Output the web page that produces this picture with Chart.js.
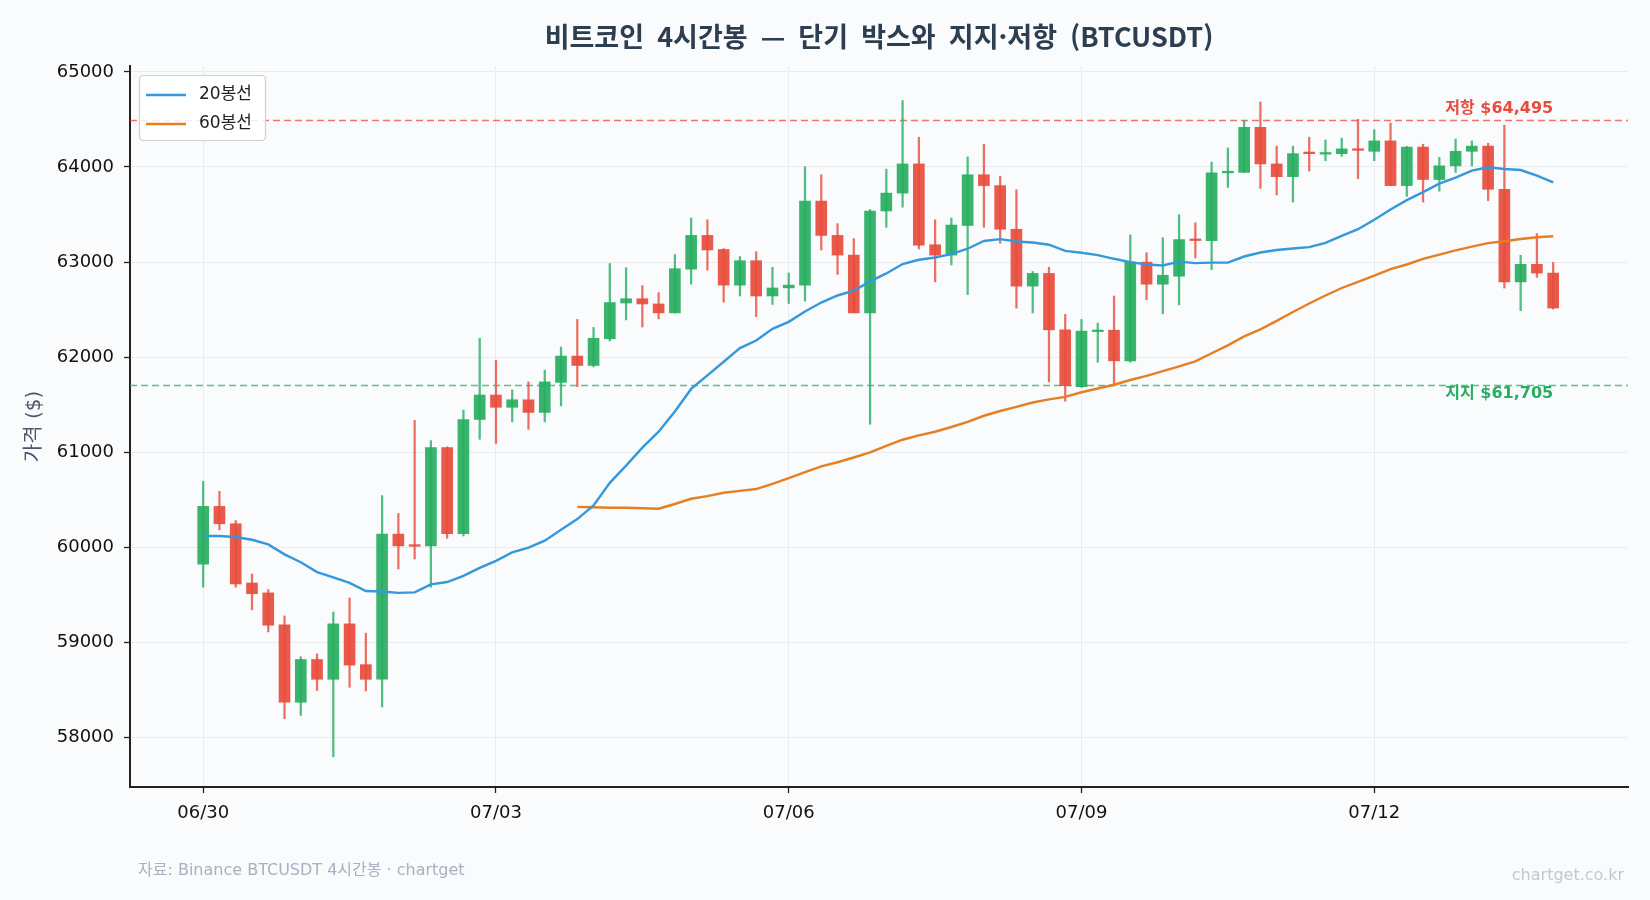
<!DOCTYPE html>
<html lang="ko">
<head>
<meta charset="utf-8">
<title>비트코인 4시간봉 — 단기 박스와 지지·저항</title>
<script src="https://cdn.jsdelivr.net/npm/chart.js@4.4.1/dist/chart.umd.min.js"></script>
<style>
  html, body { margin: 0; padding: 0; background: #f9fbfd; }
  canvas { display: block; }
</style>
</head>
<body>
<canvas id="chart" width="1650" height="900"></canvas>
<script>
// 4시간봉 시가/고가/저가/종가 (06/30 00:00 부터, 84개)
const opens = [59822,60430,60247,59624,59520,59185,58369,58819,58611,59194,58765,58611,60138,60020,60014,61047,60143,61344,61601,61472,
  61551,61418,61734,62011,61912,62193,62569,62614,62559,62465,62925,63280,63132,62757,63014,62643,62728,62757,63641,63280,
  63073,62465,63537,63725,64032,63182,63073,63384,63918,63804,63345,62747,62880,62287,61689,62268,62283,61961,62999,62767,
  62851,63236,63226,63938,63943,64417,64032,63898,64145,64135,64140,64185,64165,64274,63804,64209,63868,64012,64165,64219,
  63765,62791,62976,62884];
const highs = [60692,60588,60281,59718,59555,59278,58848,58878,59318,59466,59096,60543,60355,61334,61121,61057,61443,62198,61966,61655,
  61739,61862,62105,62396,62312,62984,62940,62752,62678,63078,63463,63444,63142,63058,63108,62945,62885,64002,63918,63404,
  63246,63552,63977,64699,64313,63444,63463,64106,64239,63903,63760,62900,62945,62450,62396,62357,62643,63286,63098,63256,
  63498,63413,64051,64200,64491,64684,64219,64219,64313,64284,64303,64501,64392,64461,64215,64239,64101,64293,64274,64249,
  64439,63071,63299,62997];
const lows = [59580,60183,59580,59342,59110,58196,58231,58493,57796,58527,58488,58320,59772,59876,59580,60094,60118,61136,61092,61319,
  61240,61319,61487,61690,61897,62169,62391,62317,62401,62465,62767,62915,62579,62643,62426,62554,62564,62589,63127,62870,
  62465,61294,63365,63577,63137,62791,62969,62658,63365,63197,62515,62465,61739,61536,61680,61946,61699,61946,62604,62455,
  62549,63043,62920,63785,63943,63775,63705,63631,63957,64066,64111,63878,64066,63804,63691,63631,63745,63943,64012,63646,
  62726,62488,62839,62505];
const closes = [60430,60247,59614,59511,59180,58369,58819,58611,59194,58760,58611,60138,60014,60010,61047,60143,61344,61601,61472,61551,
  61418,61739,62011,61912,62198,62574,62614,62559,62465,62930,63280,63127,62757,63014,62643,62727,62757,63641,63280,63073,
  62465,63537,63725,64032,63177,63073,63389,63918,63804,63345,62747,62880,62287,61699,62273,62278,61961,62999,62767,62861,
  63236,63226,63938,63943,64417,64032,63898,64140,64140,64145,64190,64175,64274,63804,64209,63868,64012,64165,64219,63765,
  62791,62976,62884,62516];

// 이동평균선
const ma20 = [60118,60118,60108,60079,60030,59925,59842,59738,59684,59624,59540,59535,59520,59525,59609,59634,59698,59782,59856,59945,
  59995,60069,60183,60296,60440,60677,60859,61047,61215,61428,61665,61808,61951,62095,62174,62297,62371,62480,62574,62648,
  62698,62796,62880,62979,63024,63048,63083,63140,63221,63241,63216,63206,63182,63117,63098,63073,63034,62999,62974,62964,
  63004,62989,62994,62994,63058,63100,63127,63142,63157,63201,63276,63345,63444,63552,63651,63735,63824,63888,63962,63997,
  63979,63968,63909,63839];
const ma60Start = 23;
const ma60 = [60425,60420,60415,60415,60410,60405,60455,60510,60538,60573,60593,60612,60667,60726,60790,60850,60894,60944,60998,61067,
  61131,61176,61215,61265,61319,61383,61433,61477,61522,61556,61581,61630,61670,61709,61759,61803,61853,61902,61956,62040,
  62124,62218,62292,62381,62475,62564,62648,62727,62791,62856,62925,62974,63034,63078,63123,63162,63199,63218,63242,63260,
  63271];

const resistance = 64495;
const support = 61705;

const xTickIdx = [0, 18, 36, 54, 72];
const xTickLabels = ["06/30", "07/03", "07/06", "07/09", "07/12"];
const yTicks = [58000, 59000, 60000, 61000, 62000, 63000, 64000, 65000];

const UP = "rgba(39,174,96,0.92)";
const DOWN = "rgba(231,76,60,0.92)";
const UP_W = "rgba(39,174,96,0.8)";
const DOWN_W = "rgba(231,76,60,0.8)";
const KR = "'Noto Sans CJK KR', sans-serif";
const FONT = "'DejaVu Sans', 'Noto Sans CJK KR', sans-serif";

const isUp = closes.map((c, i) => c >= opens[i]);
const bodies = opens.map((o, i) => ({ x: i, y: [o, closes[i]] }));
const wicks = lows.map((l, i) => ({ x: i, y: [l, highs[i]] }));

const decor = {
  id: "decor",
  beforeDatasetsDraw(chart) {
    const { ctx, chartArea: a, scales: { y } } = chart;
    ctx.save();
    ctx.lineWidth = 1.3;
    ctx.setLineDash([7, 4]);
    [[resistance, "rgba(231,76,60,0.75)"], [support, "rgba(39,174,96,0.75)"]].forEach(([v, c]) => {
      const py = Math.round(y.getPixelForValue(v)) + 0.5;
      ctx.strokeStyle = c;
      ctx.beginPath();
      ctx.moveTo(a.left, py);
      ctx.lineTo(a.right, py);
      ctx.stroke();
    });
    ctx.restore();
  },
  afterDraw(chart) {
    const { ctx, chartArea: a, scales: { x, y } } = chart;
    ctx.save();
    // 제목
    ctx.fillStyle = "#2c3e50";
    ctx.font = "bold 27px " + KR;
    ctx.wordSpacing = "7px";
    ctx.textAlign = "center";
    ctx.textBaseline = "middle";
    ctx.fillText("비트코인 4시간봉 — 단기 박스와 지지·저항 (BTCUSDT)", (a.left + a.right) / 2, 37);
    ctx.wordSpacing = "0px";

    // y축 제목
    ctx.save();
    ctx.translate(35, (a.top + a.bottom) / 2);
    ctx.rotate(-Math.PI / 2);
    ctx.fillStyle = "#4a5568";
    ctx.font = "20px " + FONT;
    ctx.fillText("가격 ($)", 0, 0);
    ctx.restore();

    // 지지/저항 라벨
    const lx = x.getPixelForValue(closes.length - 1);
    ctx.textAlign = "right";
    ctx.font = "bold 16px " + FONT;
    ctx.fillStyle = "#e74c3c";
    ctx.textBaseline = "bottom";
    ctx.fillText("저항 $" + resistance.toLocaleString("en-US"), lx, y.getPixelForValue(resistance) - 3);
    ctx.fillStyle = "#27ae60";
    ctx.textBaseline = "top";
    ctx.fillText("지지 $" + support.toLocaleString("en-US"), lx, y.getPixelForValue(support) + 1);

    // 범례
    const bx = 139.5, by = 75.5, bw = 126, bh = 65;
    ctx.fillStyle = "rgba(255,255,255,0.85)";
    ctx.strokeStyle = "#cfcfcf";
    ctx.lineWidth = 1.2;
    ctx.beginPath();
    ctx.roundRect(bx, by, bw, bh, 4);
    ctx.fill();
    ctx.stroke();
    [["20봉선", "#3498db", 95], ["60봉선", "#e67e22", 124]].forEach(([t, c, ly]) => {
      ctx.strokeStyle = c;
      ctx.lineWidth = 2.4;
      ctx.beginPath();
      ctx.moveTo(146, ly);
      ctx.lineTo(186, ly);
      ctx.stroke();
      ctx.fillStyle = "#222";
      ctx.font = "17px " + FONT;
      ctx.textAlign = "left";
      ctx.textBaseline = "middle";
      ctx.fillText(t, 199, ly);
    });

    // 출처
    ctx.font = "16px " + FONT;
    ctx.fillStyle = "#a8b1bf";
    ctx.textAlign = "left";
    ctx.fillText("자료: Binance BTCUSDT 4시간봉 · chartget", 138, 871);
    ctx.fillStyle = "#c3c8d0";
    ctx.textAlign = "right";
    ctx.font = "16px " + FONT;
    ctx.fillText("chartget.co.kr", 1624, 876);
    ctx.restore();
  }
};

new Chart(document.getElementById("chart"), {
  type: "bar",
  data: {
    datasets: [
      {
        type: "line", label: "20봉선", data: ma20.map((v, i) => ({ x: i, y: v })),
        borderColor: "#3498db", borderWidth: 2.4, pointRadius: 0, tension: 0, order: 1
      },
      {
        type: "line", label: "60봉선", data: ma60.map((v, i) => ({ x: i + ma60Start, y: v })),
        borderColor: "#e67e22", borderWidth: 2.4, pointRadius: 0, tension: 0, order: 2
      },
      {
        label: "body", data: bodies, grouped: false, barThickness: 11, minBarLength: 1.6,
        backgroundColor: isUp.map(u => u ? UP : DOWN), borderWidth: 0, order: 3
      },
      {
        label: "wick", data: wicks, grouped: false, barThickness: 1.6,
        backgroundColor: isUp.map(u => u ? UP_W : DOWN_W), borderWidth: 0, order: 4
      }
    ]
  },
  options: {
    responsive: false,
    animation: false,
    devicePixelRatio: 1,
    layout: { padding: { top: 66, right: 22, left: 0, bottom: 0 } },
    plugins: { legend: { display: false }, tooltip: { enabled: false }, title: { display: false } },
    scales: {
      x: {
        type: "linear", min: -4.5, max: 87.6, offset: false,
        afterBuildTicks: s => { s.ticks = xTickIdx.map(v => ({ value: v })); },
        afterFit: s => { s.height = 113; },
        ticks: {
          callback: (v) => xTickLabels[xTickIdx.indexOf(v)],
          font: { family: FONT, size: 18 }, color: "#111", padding: 10, maxRotation: 0
        },
        grid: { offset: false, color: "#e9ebef", lineWidth: 1, tickLength: 6, tickColor: "#222", tickWidth: 1.3 },
        border: { color: "#222", width: 2 }
      },
      y: {
        type: "linear", min: 57478, max: 65062,
        afterBuildTicks: s => { s.ticks = yTicks.map(v => ({ value: v })); },
        afterFit: s => { s.width = 130; },
        ticks: {
          callback: v => String(v),
          font: { family: FONT, size: 18 }, color: "#111", padding: 10
        },
        grid: { color: "#e9ebef", lineWidth: 1, tickLength: 6, tickColor: "#222", tickWidth: 1.3 },
        border: { color: "#222", width: 2 }
      }
    }
  },
  plugins: [decor]
});
</script>
</body>
</html>
